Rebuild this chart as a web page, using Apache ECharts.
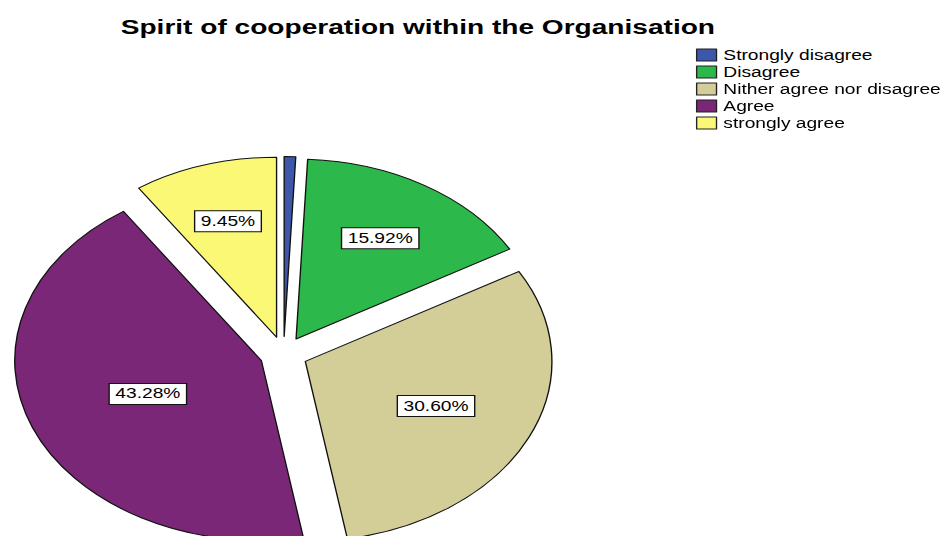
<!DOCTYPE html>
<html>
<head>
<meta charset="utf-8">
<title>Spirit of cooperation within the Organisation</title>
<script src="https://cdn.jsdelivr.net/npm/echarts@6/dist/echarts.min.js"></script>
<style>
  html, body { margin: 0; padding: 0; background: #fff; overflow: hidden; }
  #wrap { width: 945px; height: 536px; overflow: hidden; position: relative; }
  #chart { position: absolute; left: 0; top: 0; height: 536px; transform-origin: 0 0; }
</style>
</head>
<body>
<div id="wrap"><div id="chart"></div></div>
<script>
// Response categories and their shares (%)
const categories = ['Strongly disagree', 'Disagree', 'Nither agree nor disagree', 'Agree', 'strongly agree'];
const percentages = [0.75, 15.92, 30.60, 43.28, 9.45];
const sliceColors = ['#3D58AA', '#2DB84B', '#D3CE98', '#7A2778', '#FBF876'];
const showLabel = [false, true, true, true, true];

// The exported chart is widened horizontally; the drawing is laid out
// in a narrower box and stretched to full width.
const STRETCH = 1.37;
const BOX_W = 945 / STRETCH;
const PIE_CENTER = [207, 354];
const PIE_RADIUS = 180;
const EXPLODE = 17.5;

const el = document.getElementById('chart');
el.style.width = BOX_W + 'px';
el.style.transform = 'scaleX(' + STRETCH + ')';

const chart = echarts.init(el, null, { renderer: 'svg', width: BOX_W, height: 536 });

const total = percentages.reduce((a, b) => a + b, 0);

// Move each inside label from mid-radius to the centroid of its sector
function centroidShift(params) {
  const i = params.dataIndex;
  let before = 0;
  for (let k = 0; k < i; k++) before += percentages[k];
  const half = Math.PI * percentages[i] / total;          // half sweep angle
  const mid = 2 * Math.PI * before / total + half;         // clockwise from 12 o'clock
  const extra = PIE_RADIUS * (2 * Math.sin(half) / (3 * half) - 0.5);
  return {
    dx: extra * Math.sin(mid),
    dy: -extra * Math.cos(mid)
  };
}

const pieData = categories.map((name, i) => ({
  name: name,
  value: percentages[i],
  selected: true,
  itemStyle: { color: sliceColors[i] },
  label: { show: showLabel[i] }
}));

chart.setOption({
  animation: false,
  backgroundColor: '#ffffff',
  title: {
    text: 'Spirit of cooperation within the Organisation',
    left: 300,
    top: 11,
    textAlign: 'center',
    textStyle: {
      fontFamily: 'Liberation Sans, Arial, sans-serif',
      fontSize: 20.5,
      fontWeight: 'bold',
      color: '#000'
    }
  },
  legend: {
    orient: 'vertical',
    left: 508,
    top: 48,
    padding: 0,
    icon: 'rect',
    itemWidth: 14.5,
    itemHeight: 12,
    itemGap: 3,
    selectedMode: false,
    data: categories,
    itemStyle: { borderColor: '#222', borderWidth: 1 },
    textStyle: {
      fontFamily: 'Liberation Sans, Arial, sans-serif',
      fontSize: 14,
      color: '#000'
    }
  },
  series: [{
    type: 'pie',
    center: PIE_CENTER,
    radius: PIE_RADIUS,
    startAngle: 90,
    clockwise: true,
    selectedMode: 'multiple',
    selectedOffset: EXPLODE,
    avoidLabelOverlap: false,
    emphasis: { disabled: true },
    select: { itemStyle: { borderColor: '#111', borderWidth: 1 } },
    itemStyle: { borderColor: '#111', borderWidth: 1 },
    label: {
      position: 'inside',
      formatter: p => p.value.toFixed(2) + '%',
      fontFamily: 'Liberation Sans, Arial, sans-serif',
      fontSize: 14,
      color: '#000',
      backgroundColor: '#fff',
      borderColor: '#111',
      borderWidth: 1,
      padding: [3, 4, 2, 4],
      lineHeight: 15
    },
    labelLine: { show: false },
    labelLayout: centroidShift,
    data: pieData
  }]
});
</script>
</body>
</html>
